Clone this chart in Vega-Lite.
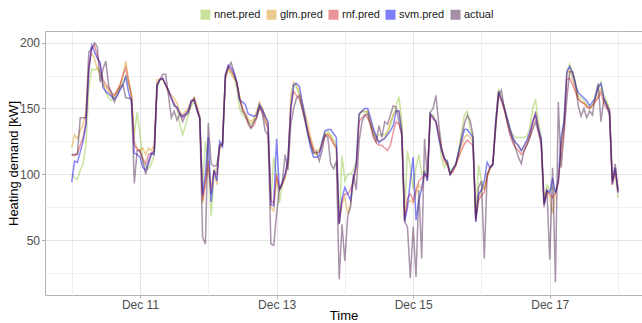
{
"$schema": "https://vega.github.io/schema/vega-lite/v6.json",
"width": 597, "height": 264,
"autosize": {"type": "none"},
"padding": {"left": 45, "top": 31, "right": 0, "bottom": 28},
"background": "white",
"config": {"font": "Liberation Sans", "view": {"stroke": "#b3b3b3", "strokeWidth": 1}},
"data": {"values": [
{"t":"2016-12-10T00:00","nnet":100,"glm":120,"rnf":115,"svm":94,"actual":115},
{"t":"2016-12-10T01:00","nnet":97,"glm":130,"rnf":114,"svm":110,"actual":115},
{"t":"2016-12-10T02:00","nnet":96,"glm":127,"rnf":116,"svm":109,"actual":115},
{"t":"2016-12-10T03:00","nnet":103,"glm":133,"rnf":122,"svm":117,"actual":143},
{"t":"2016-12-10T04:00","nnet":108,"glm":138,"rnf":128,"svm":125,"actual":143},
{"t":"2016-12-10T05:00","nnet":122,"glm":147,"rnf":140,"svm":137,"actual":143},
{"t":"2016-12-10T06:00","nnet":165,"glm":182,"rnf":180,"svm":178,"actual":193},
{"t":"2016-12-10T07:00","nnet":180,"glm":192,"rnf":196,"svm":198,"actual":195},
{"t":"2016-12-10T08:00","nnet":179,"glm":188,"rnf":198,"svm":193,"actual":200},
{"t":"2016-12-10T09:00","nnet":181,"glm":180,"rnf":190,"svm":188,"actual":197},
{"t":"2016-12-10T10:00","nnet":178,"glm":176,"rnf":183,"svm":185,"actual":170},
{"t":"2016-12-10T11:00","nnet":170,"glm":168,"rnf":172,"svm":166,"actual":180},
{"t":"2016-12-10T12:00","nnet":162,"glm":166,"rnf":168,"svm":163,"actual":186},
{"t":"2016-12-10T13:00","nnet":158,"glm":163,"rnf":165,"svm":161,"actual":167},
{"t":"2016-12-10T14:00","nnet":156,"glm":160,"rnf":162,"svm":159,"actual":162},
{"t":"2016-12-10T15:00","nnet":160,"glm":159,"rnf":160,"svm":157,"actual":155},
{"t":"2016-12-10T16:00","nnet":163,"glm":163,"rnf":164,"svm":160,"actual":160},
{"t":"2016-12-10T17:00","nnet":167,"glm":168,"rnf":168,"svm":164,"actual":166},
{"t":"2016-12-10T18:00","nnet":170,"glm":175,"rnf":175,"svm":168,"actual":168},
{"t":"2016-12-10T19:00","nnet":175,"glm":186,"rnf":181,"svm":174,"actual":158},
{"t":"2016-12-10T20:00","nnet":168,"glm":172,"rnf":170,"svm":162,"actual":158},
{"t":"2016-12-10T21:00","nnet":158,"glm":160,"rnf":160,"svm":155,"actual":157},
{"t":"2016-12-10T22:00","nnet":130,"glm":125,"rnf":122,"svm":116,"actual":93},
{"t":"2016-12-10T23:00","nnet":147,"glm":120,"rnf":119,"svm":115,"actual":118},
{"t":"2016-12-11T00:00","nnet":130,"glm":118,"rnf":117,"svm":113,"actual":118},
{"t":"2016-12-11T01:00","nnet":110,"glm":120,"rnf":112,"svm":105,"actual":110},
{"t":"2016-12-11T02:00","nnet":106,"glm":115,"rnf":108,"svm":103,"actual":100},
{"t":"2016-12-11T03:00","nnet":104,"glm":120,"rnf":115,"svm":110,"actual":108},
{"t":"2016-12-11T04:00","nnet":108,"glm":118,"rnf":116,"svm":116,"actual":115},
{"t":"2016-12-11T05:00","nnet":115,"glm":122,"rnf":118,"svm":115,"actual":117},
{"t":"2016-12-11T06:00","nnet":165,"glm":172,"rnf":168,"svm":168,"actual":168},
{"t":"2016-12-11T07:00","nnet":172,"glm":172,"rnf":172,"svm":172,"actual":172},
{"t":"2016-12-11T08:00","nnet":172,"glm":172,"rnf":173,"svm":173,"actual":176},
{"t":"2016-12-11T09:00","nnet":168,"glm":168,"rnf":168,"svm":168,"actual":176},
{"t":"2016-12-11T10:00","nnet":162,"glm":164,"rnf":163,"svm":164,"actual":160},
{"t":"2016-12-11T11:00","nnet":158,"glm":160,"rnf":158,"svm":158,"actual":143},
{"t":"2016-12-11T12:00","nnet":153,"glm":158,"rnf":154,"svm":152,"actual":148},
{"t":"2016-12-11T13:00","nnet":150,"glm":154,"rnf":150,"svm":151,"actual":141},
{"t":"2016-12-11T14:00","nnet":138,"glm":148,"rnf":146,"svm":146,"actual":146},
{"t":"2016-12-11T15:00","nnet":130,"glm":145,"rnf":143,"svm":144,"actual":140},
{"t":"2016-12-11T16:00","nnet":137,"glm":148,"rnf":145,"svm":146,"actual":145},
{"t":"2016-12-11T17:00","nnet":146,"glm":150,"rnf":149,"svm":148,"actual":146},
{"t":"2016-12-11T18:00","nnet":152,"glm":156,"rnf":155,"svm":156,"actual":154},
{"t":"2016-12-11T19:00","nnet":155,"glm":158,"rnf":157,"svm":156,"actual":158},
{"t":"2016-12-11T20:00","nnet":150,"glm":153,"rnf":150,"svm":150,"actual":148},
{"t":"2016-12-11T21:00","nnet":143,"glm":144,"rnf":143,"svm":143,"actual":142},
{"t":"2016-12-11T22:00","nnet":88,"glm":78,"rnf":80,"svm":84,"actual":52},
{"t":"2016-12-11T23:00","nnet":125,"glm":92,"rnf":95,"svm":100,"actual":47},
{"t":"2016-12-12T00:00","nnet":110,"glm":105,"rnf":110,"svm":128,"actual":139},
{"t":"2016-12-12T01:00","nnet":68,"glm":90,"rnf":85,"svm":79,"actual":108},
{"t":"2016-12-12T02:00","nnet":100,"glm":104,"rnf":102,"svm":103,"actual":106},
{"t":"2016-12-12T03:00","nnet":105,"glm":92,"rnf":100,"svm":95,"actual":107},
{"t":"2016-12-12T04:00","nnet":120,"glm":122,"rnf":120,"svm":125,"actual":122},
{"t":"2016-12-12T05:00","nnet":123,"glm":124,"rnf":122,"svm":121,"actual":123},
{"t":"2016-12-12T06:00","nnet":175,"glm":172,"rnf":174,"svm":176,"actual":174},
{"t":"2016-12-12T07:00","nnet":181,"glm":180,"rnf":182,"svm":183,"actual":181},
{"t":"2016-12-12T08:00","nnet":178,"glm":176,"rnf":179,"svm":181,"actual":185},
{"t":"2016-12-12T09:00","nnet":175,"glm":173,"rnf":175,"svm":177,"actual":178},
{"t":"2016-12-12T10:00","nnet":165,"glm":170,"rnf":170,"svm":170,"actual":170},
{"t":"2016-12-12T11:00","nnet":150,"glm":160,"rnf":158,"svm":156,"actual":158},
{"t":"2016-12-12T12:00","nnet":145,"glm":150,"rnf":150,"svm":155,"actual":148},
{"t":"2016-12-12T13:00","nnet":143,"glm":147,"rnf":145,"svm":153,"actual":145},
{"t":"2016-12-12T14:00","nnet":140,"glm":142,"rnf":138,"svm":146,"actual":140},
{"t":"2016-12-12T15:00","nnet":138,"glm":140,"rnf":135,"svm":145,"actual":135},
{"t":"2016-12-12T16:00","nnet":140,"glm":142,"rnf":137,"svm":144,"actual":140},
{"t":"2016-12-12T17:00","nnet":145,"glm":148,"rnf":143,"svm":145,"actual":143},
{"t":"2016-12-12T18:00","nnet":152,"glm":155,"rnf":150,"svm":153,"actual":152},
{"t":"2016-12-12T19:00","nnet":150,"glm":150,"rnf":148,"svm":149,"actual":146},
{"t":"2016-12-12T20:00","nnet":142,"glm":145,"rnf":140,"svm":144,"actual":133},
{"t":"2016-12-12T21:00","nnet":135,"glm":138,"rnf":135,"svm":140,"actual":130},
{"t":"2016-12-12T22:00","nnet":80,"glm":75,"rnf":80,"svm":77,"actual":47},
{"t":"2016-12-12T23:00","nnet":113,"glm":72,"rnf":78,"svm":76,"actual":46},
{"t":"2016-12-13T00:00","nnet":100,"glm":98,"rnf":100,"svm":127,"actual":70},
{"t":"2016-12-13T01:00","nnet":78,"glm":90,"rnf":88,"svm":88,"actual":88},
{"t":"2016-12-13T02:00","nnet":92,"glm":92,"rnf":92,"svm":94,"actual":94},
{"t":"2016-12-13T03:00","nnet":100,"glm":98,"rnf":98,"svm":100,"actual":115},
{"t":"2016-12-13T04:00","nnet":108,"glm":108,"rnf":110,"svm":112,"actual":103},
{"t":"2016-12-13T05:00","nnet":152,"glm":160,"rnf":150,"svm":150,"actual":138},
{"t":"2016-12-13T06:00","nnet":168,"glm":170,"rnf":163,"svm":168,"actual":150},
{"t":"2016-12-13T07:00","nnet":166,"glm":168,"rnf":160,"svm":169,"actual":158},
{"t":"2016-12-13T08:00","nnet":160,"glm":162,"rnf":157,"svm":167,"actual":160},
{"t":"2016-12-13T09:00","nnet":152,"glm":155,"rnf":150,"svm":155,"actual":150},
{"t":"2016-12-13T10:00","nnet":142,"glm":147,"rnf":142,"svm":143,"actual":140},
{"t":"2016-12-13T11:00","nnet":132,"glm":138,"rnf":133,"svm":130,"actual":131},
{"t":"2016-12-13T12:00","nnet":123,"glm":128,"rnf":125,"svm":120,"actual":123},
{"t":"2016-12-13T13:00","nnet":116,"glm":120,"rnf":118,"svm":113,"actual":116},
{"t":"2016-12-13T14:00","nnet":115,"glm":118,"rnf":116,"svm":113,"actual":117},
{"t":"2016-12-13T15:00","nnet":118,"glm":118,"rnf":117,"svm":114,"actual":110},
{"t":"2016-12-13T16:00","nnet":125,"glm":123,"rnf":122,"svm":125,"actual":118},
{"t":"2016-12-13T17:00","nnet":131,"glm":130,"rnf":129,"svm":133,"actual":130},
{"t":"2016-12-13T18:00","nnet":133,"glm":131,"rnf":130,"svm":134,"actual":128},
{"t":"2016-12-13T19:00","nnet":130,"glm":129,"rnf":127,"svm":134,"actual":108},
{"t":"2016-12-13T20:00","nnet":126,"glm":124,"rnf":123,"svm":131,"actual":104},
{"t":"2016-12-13T21:00","nnet":122,"glm":120,"rnf":120,"svm":128,"actual":110},
{"t":"2016-12-13T22:00","nnet":63,"glm":62,"rnf":63,"svm":62,"actual":20},
{"t":"2016-12-13T23:00","nnet":114,"glm":78,"rnf":80,"svm":82,"actual":62},
{"t":"2016-12-14T00:00","nnet":95,"glm":82,"rnf":85,"svm":90,"actual":34},
{"t":"2016-12-14T01:00","nnet":100,"glm":70,"rnf":85,"svm":85,"actual":68},
{"t":"2016-12-14T02:00","nnet":100,"glm":78,"rnf":88,"svm":80,"actual":75},
{"t":"2016-12-14T03:00","nnet":103,"glm":95,"rnf":95,"svm":97,"actual":100},
{"t":"2016-12-14T04:00","nnet":110,"glm":106,"rnf":105,"svm":108,"actual":88},
{"t":"2016-12-14T05:00","nnet":145,"glm":145,"rnf":140,"svm":146,"actual":125},
{"t":"2016-12-14T06:00","nnet":148,"glm":148,"rnf":143,"svm":148,"actual":140},
{"t":"2016-12-14T07:00","nnet":147,"glm":148,"rnf":145,"svm":150,"actual":145},
{"t":"2016-12-14T08:00","nnet":148,"glm":147,"rnf":143,"svm":150,"actual":146},
{"t":"2016-12-14T09:00","nnet":140,"glm":140,"rnf":138,"svm":143,"actual":137},
{"t":"2016-12-14T10:00","nnet":132,"glm":133,"rnf":128,"svm":135,"actual":130},
{"t":"2016-12-14T11:00","nnet":128,"glm":127,"rnf":124,"svm":129,"actual":125},
{"t":"2016-12-14T12:00","nnet":130,"glm":125,"rnf":122,"svm":124,"actual":137},
{"t":"2016-12-14T13:00","nnet":130,"glm":126,"rnf":122,"svm":126,"actual":128},
{"t":"2016-12-14T14:00","nnet":130,"glm":128,"rnf":120,"svm":127,"actual":140},
{"t":"2016-12-14T15:00","nnet":132,"glm":132,"rnf":118,"svm":130,"actual":138},
{"t":"2016-12-14T16:00","nnet":137,"glm":140,"rnf":122,"svm":133,"actual":145},
{"t":"2016-12-14T17:00","nnet":145,"glm":145,"rnf":132,"svm":137,"actual":152},
{"t":"2016-12-14T18:00","nnet":152,"glm":148,"rnf":140,"svm":148,"actual":151},
{"t":"2016-12-14T19:00","nnet":159,"glm":148,"rnf":138,"svm":148,"actual":140},
{"t":"2016-12-14T20:00","nnet":140,"glm":135,"rnf":130,"svm":132,"actual":130},
{"t":"2016-12-14T21:00","nnet":70,"glm":65,"rnf":66,"svm":64,"actual":64},
{"t":"2016-12-14T22:00","nnet":118,"glm":78,"rnf":82,"svm":75,"actual":60},
{"t":"2016-12-14T23:00","nnet":105,"glm":80,"rnf":85,"svm":95,"actual":21},
{"t":"2016-12-15T00:00","nnet":88,"glm":78,"rnf":80,"svm":113,"actual":60},
{"t":"2016-12-15T01:00","nnet":105,"glm":85,"rnf":88,"svm":65,"actual":22},
{"t":"2016-12-15T02:00","nnet":115,"glm":92,"rnf":95,"svm":80,"actual":88},
{"t":"2016-12-15T03:00","nnet":100,"glm":88,"rnf":97,"svm":89,"actual":36},
{"t":"2016-12-15T04:00","nnet":103,"glm":100,"rnf":100,"svm":102,"actual":127},
{"t":"2016-12-15T05:00","nnet":100,"glm":98,"rnf":98,"svm":95,"actual":95},
{"t":"2016-12-15T06:00","nnet":145,"glm":146,"rnf":144,"svm":146,"actual":147},
{"t":"2016-12-15T07:00","nnet":145,"glm":144,"rnf":142,"svm":143,"actual":150},
{"t":"2016-12-15T08:00","nnet":140,"glm":140,"rnf":140,"svm":140,"actual":160},
{"t":"2016-12-15T09:00","nnet":130,"glm":132,"rnf":130,"svm":127,"actual":138},
{"t":"2016-12-15T10:00","nnet":112,"glm":120,"rnf":118,"svm":118,"actual":120},
{"t":"2016-12-15T11:00","nnet":105,"glm":112,"rnf":110,"svm":112,"actual":112},
{"t":"2016-12-15T12:00","nnet":110,"glm":108,"rnf":107,"svm":110,"actual":108},
{"t":"2016-12-15T13:00","nnet":102,"glm":100,"rnf":100,"svm":100,"actual":100},
{"t":"2016-12-15T14:00","nnet":105,"glm":103,"rnf":102,"svm":104,"actual":104},
{"t":"2016-12-15T15:00","nnet":108,"glm":107,"rnf":107,"svm":108,"actual":107},
{"t":"2016-12-15T16:00","nnet":118,"glm":114,"rnf":113,"svm":117,"actual":117},
{"t":"2016-12-15T17:00","nnet":132,"glm":122,"rnf":118,"svm":125,"actual":128},
{"t":"2016-12-15T18:00","nnet":145,"glm":128,"rnf":123,"svm":134,"actual":138},
{"t":"2016-12-15T19:00","nnet":148,"glm":130,"rnf":126,"svm":134,"actual":145},
{"t":"2016-12-15T20:00","nnet":135,"glm":128,"rnf":124,"svm":131,"actual":141},
{"t":"2016-12-15T21:00","nnet":128,"glm":125,"rnf":122,"svm":128,"actual":130},
{"t":"2016-12-15T22:00","nnet":66,"glm":68,"rnf":66,"svm":64,"actual":64},
{"t":"2016-12-15T23:00","nnet":107,"glm":82,"rnf":80,"svm":85,"actual":90},
{"t":"2016-12-16T00:00","nnet":95,"glm":88,"rnf":84,"svm":88,"actual":95},
{"t":"2016-12-16T01:00","nnet":88,"glm":90,"rnf":86,"svm":95,"actual":36},
{"t":"2016-12-16T02:00","nnet":100,"glm":97,"rnf":98,"svm":109,"actual":100},
{"t":"2016-12-16T03:00","nnet":104,"glm":104,"rnf":105,"svm":105,"actual":105},
{"t":"2016-12-16T04:00","nnet":108,"glm":108,"rnf":108,"svm":107,"actual":108},
{"t":"2016-12-16T05:00","nnet":140,"glm":140,"rnf":136,"svm":140,"actual":135},
{"t":"2016-12-16T06:00","nnet":165,"glm":163,"rnf":160,"svm":163,"actual":160},
{"t":"2016-12-16T07:00","nnet":158,"glm":157,"rnf":156,"svm":157,"actual":164},
{"t":"2016-12-16T08:00","nnet":152,"glm":150,"rnf":149,"svm":151,"actual":150},
{"t":"2016-12-16T09:00","nnet":143,"glm":142,"rnf":140,"svm":143,"actual":140},
{"t":"2016-12-16T10:00","nnet":135,"glm":133,"rnf":130,"svm":135,"actual":132},
{"t":"2016-12-16T11:00","nnet":130,"glm":127,"rnf":124,"svm":128,"actual":126},
{"t":"2016-12-16T12:00","nnet":128,"glm":124,"rnf":120,"svm":124,"actual":120},
{"t":"2016-12-16T13:00","nnet":128,"glm":121,"rnf":118,"svm":122,"actual":113},
{"t":"2016-12-16T14:00","nnet":128,"glm":118,"rnf":115,"svm":118,"actual":108},
{"t":"2016-12-16T15:00","nnet":128,"glm":121,"rnf":118,"svm":122,"actual":118},
{"t":"2016-12-16T16:00","nnet":129,"glm":125,"rnf":123,"svm":126,"actual":122},
{"t":"2016-12-16T17:00","nnet":135,"glm":130,"rnf":128,"svm":132,"actual":128},
{"t":"2016-12-16T18:00","nnet":150,"glm":140,"rnf":138,"svm":140,"actual":134},
{"t":"2016-12-16T19:00","nnet":157,"glm":148,"rnf":145,"svm":146,"actual":140},
{"t":"2016-12-16T20:00","nnet":140,"glm":135,"rnf":133,"svm":135,"actual":132},
{"t":"2016-12-16T21:00","nnet":128,"glm":125,"rnf":125,"svm":127,"actual":122},
{"t":"2016-12-16T22:00","nnet":80,"glm":78,"rnf":78,"svm":77,"actual":75},
{"t":"2016-12-16T23:00","nnet":92,"glm":88,"rnf":87,"svm":88,"actual":88},
{"t":"2016-12-17T00:00","nnet":88,"glm":82,"rnf":85,"svm":86,"actual":35},
{"t":"2016-12-17T01:00","nnet":90,"glm":70,"rnf":82,"svm":97,"actual":105},
{"t":"2016-12-17T02:00","nnet":86,"glm":85,"rnf":86,"svm":86,"actual":18},
{"t":"2016-12-17T03:00","nnet":95,"glm":95,"rnf":93,"svm":95,"actual":155},
{"t":"2016-12-17T04:00","nnet":125,"glm":120,"rnf":118,"svm":128,"actual":105},
{"t":"2016-12-17T05:00","nnet":140,"glm":138,"rnf":135,"svm":140,"actual":130},
{"t":"2016-12-17T06:00","nnet":178,"glm":176,"rnf":172,"svm":178,"actual":157},
{"t":"2016-12-17T07:00","nnet":184,"glm":180,"rnf":173,"svm":182,"actual":178},
{"t":"2016-12-17T08:00","nnet":178,"glm":172,"rnf":168,"svm":177,"actual":178},
{"t":"2016-12-17T09:00","nnet":170,"glm":165,"rnf":163,"svm":168,"actual":170},
{"t":"2016-12-17T10:00","nnet":160,"glm":158,"rnf":157,"svm":162,"actual":152},
{"t":"2016-12-17T11:00","nnet":158,"glm":155,"rnf":155,"svm":160,"actual":144},
{"t":"2016-12-17T12:00","nnet":156,"glm":154,"rnf":154,"svm":158,"actual":150},
{"t":"2016-12-17T13:00","nnet":153,"glm":152,"rnf":151,"svm":156,"actual":143},
{"t":"2016-12-17T14:00","nnet":150,"glm":150,"rnf":150,"svm":152,"actual":148},
{"t":"2016-12-17T15:00","nnet":153,"glm":152,"rnf":152,"svm":155,"actual":145},
{"t":"2016-12-17T16:00","nnet":157,"glm":156,"rnf":155,"svm":158,"actual":160},
{"t":"2016-12-17T17:00","nnet":165,"glm":160,"rnf":158,"svm":166,"actual":169},
{"t":"2016-12-17T18:00","nnet":170,"glm":165,"rnf":162,"svm":169,"actual":140},
{"t":"2016-12-17T19:00","nnet":160,"glm":157,"rnf":154,"svm":158,"actual":157},
{"t":"2016-12-17T20:00","nnet":156,"glm":154,"rnf":150,"svm":153,"actual":152},
{"t":"2016-12-17T21:00","nnet":150,"glm":148,"rnf":148,"svm":148,"actual":145},
{"t":"2016-12-17T22:00","nnet":95,"glm":92,"rnf":92,"svm":93,"actual":95},
{"t":"2016-12-17T23:00","nnet":100,"glm":105,"rnf":103,"svm":105,"actual":108},
{"t":"2016-12-18T00:00","nnet":82,"glm":86,"rnf":87,"svm":86,"actual":88}
]},
"transform": [{"fold": ["nnet", "glm", "rnf", "svm", "actual"], "as": ["series", "value"]}],
"mark": {"type": "line", "strokeWidth": 1.5, "strokeOpacity": 0.48, "clip": true},
"encoding": {
  "x": {"field": "t", "type": "temporal",
    "scale": {"domain": [{"year": 2016, "month": 12, "date": 9, "hours": 14, "minutes": 37}, {"year": 2016, "month": 12, "date": 18, "hours": 8, "minutes": 25}], "nice": false},
    "axis": {"title": "Time",
      "values": [{"year": 2016, "month": 12, "date": 10}, {"year": 2016, "month": 12, "date": 11}, {"year": 2016, "month": 12, "date": 12}, {"year": 2016, "month": 12, "date": 13}, {"year": 2016, "month": 12, "date": 14}, {"year": 2016, "month": 12, "date": 15}, {"year": 2016, "month": 12, "date": 16}, {"year": 2016, "month": 12, "date": 17}, {"year": 2016, "month": 12, "date": 18}],
      "labelExpr": "date(datum.value) % 2 == 1 ? timeFormat(datum.value, '%b %d') : ''",
      "domain": false, "grid": true,
      "gridColor": {"condition": {"test": "date(datum.value) % 2 == 1", "value": "#e4e4e4"}, "value": "#efefef"},
      "gridWidth": 1,
      "tickColor": {"condition": {"test": "date(datum.value) % 2 == 1", "value": "#b3b3b3"}, "value": "transparent"},
      "tickSize": 3, "labelPadding": 1, "labelFontSize": 12, "labelColor": "#4d4d4d", "labelFlush": false,
      "titleFontSize": 13, "titleFontWeight": "normal", "titleColor": "#000000", "titlePadding": -1}},
  "y": {"field": "value", "type": "quantitative",
    "scale": {"domain": [8.2, 208.9], "nice": false, "zero": false},
    "axis": {"title": "Heating demand [kW]",
      "values": [25, 50, 75, 100, 125, 150, 175, 200],
      "labelExpr": "datum.value % 50 == 0 ? datum.label : ''",
      "domain": false, "grid": true,
      "gridColor": {"condition": {"test": "datum.value % 50 == 0", "value": "#e4e4e4"}, "value": "#efefef"},
      "tickColor": {"condition": {"test": "datum.value % 50 == 0", "value": "#b3b3b3"}, "value": "transparent"},
      "tickSize": 3.5, "labelPadding": 2, "labelFontSize": 12, "labelColor": "#4d4d4d",
      "titleFontSize": 13, "titleFontWeight": "normal", "titleColor": "#000000", "titlePadding": -1}},
  "color": {"field": "series", "type": "nominal",
    "scale": {"domain": ["nnet", "glm", "rnf", "svm", "actual"], "range": ["#91c539", "#d7971b", "#d52733", "#0000f1", "#4b1f4f"]},
    "legend": {"title": null, "orient": "none", "legendX": 155, "legendY": -22, "direction": "horizontal",
      "symbolType": "square", "symbolSize": 100, "symbolStrokeWidth": 0,
      "labelFontSize": 11, "labelColor": "#1a1a1a", "labelOffset": 3, "columnPadding": 5,
      "labelExpr": "datum.label == 'actual' ? 'actual' : datum.label + '.pred'",
      "encode": {"symbols": {"update": {"fill": {"scale": "color", "field": "value"}, "fillOpacity": {"value": 0.5}, "strokeWidth": {"value": 0}, "opacity": {"value": 1}}}}}}
}
}
